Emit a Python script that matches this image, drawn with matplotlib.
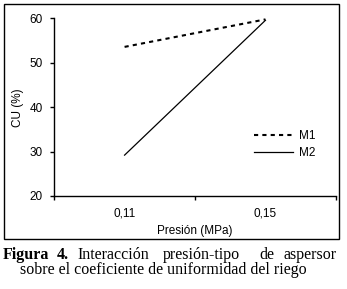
import numpy as np
import matplotlib
matplotlib.use("Agg")
import matplotlib.pyplot as plt
from matplotlib.patches import Rectangle

# data
presion = ["0,11", "0,15"]
m1 = [53.6, 59.8]
m2 = [29.2, 59.6]
yticks = [20, 30, 40, 50, 60]

plt.rcParams['font.family'] = ['Liberation Sans', 'DejaVu Sans']
fs = 8.5

fig = plt.figure(figsize=(3.47, 2.89), dpi=100)
ax = fig.add_axes([0.156, 0.322, 0.812, 0.614])

x = np.arange(len(presion)) + 0.5
ax.plot(x, m1, color="black", lw=1.5, ls=(0, (2, 2)), label="M1")
ax.plot(x, m2, color="black", lw=0.9, label="M2")

ax.set_xlim(0, len(presion))
ax.set_ylim(20, 60)
ax.set_yticks(yticks)
ax.set_xticks(np.arange(len(presion) + 1))
ax.set_xticklabels([])
ax.set_xticks(x, minor=True)
ax.set_xticklabels(presion, minor=True)
ax.tick_params(axis="x", which="minor", length=0, pad=8.5, labelsize=fs)
ax.tick_params(axis="x", which="major", length=3, width=1, direction="out")
ax.tick_params(axis="y", length=3, width=1, pad=5, labelsize=fs)
for s in ["top", "right"]:
    ax.spines[s].set_visible(False)
for s in ["left", "bottom"]:
    ax.spines[s].set_linewidth(1)

ax.set_xlabel("Presión (MPa)", fontsize=fs, labelpad=4)
ax.set_ylabel("CU (%)", fontsize=fs, labelpad=4)

ax.legend(loc="center left", bbox_to_anchor=(0.692, 0.29), frameon=False,
          fontsize=fs, handlelength=3.3, handletextpad=0.5, labelspacing=0.4,
          borderaxespad=0)

# box around the chart
fig.patches.append(Rectangle((4 / 347, 1 - 239 / 289), 335 / 347, 235 / 289,
                             transform=fig.transFigure, fill=False,
                             lw=1.0, ec="black"))

# caption (first line justified word by word)
serif = ['Liberation Serif', 'DejaVu Serif']
cs = 11.5
y1 = 1 - 259 / 289
fig.text(3 / 347, y1, "Figura", family=serif, weight="bold", fontsize=cs,
         ha="left", va="baseline")
fig.text(57 / 347, y1, "4.", family=serif, weight="bold", fontsize=cs,
         ha="left", va="baseline")
for word, px in [("Interacción", 77), ("presión-tipo", 163), ("de", 259)]:
    fig.text(px / 347, y1, word, family=serif, fontsize=cs, ha="left",
             va="baseline")
fig.text(337 / 347, y1, "aspersor", family=serif, fontsize=cs, ha="right",
         va="baseline")
fig.text(163 / 347, 1 - 274 / 289, "sobre el coeficiente de uniformidad del riego",
         family=serif, fontsize=cs, ha="center", va="baseline")

fig.savefig("out.png", dpi=100)
